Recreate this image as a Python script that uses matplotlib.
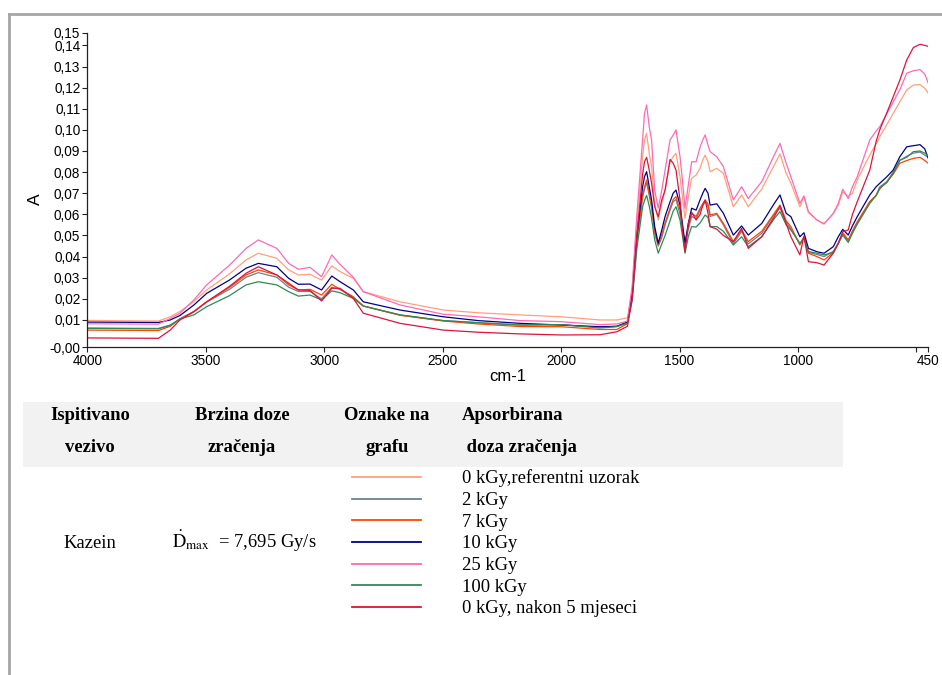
import matplotlib
matplotlib.use("Agg")
import matplotlib.pyplot as plt
from matplotlib.lines import Line2D
from matplotlib.patches import Rectangle

plt.rcParams['font.family'] = ['Liberation Sans', 'DejaVu Sans']
plt.rcParams['mathtext.fontset'] = 'stix'

# ---------------- data ----------------
wavenumber = [4000, 3850, 3700, 3650, 3609, 3550, 3496, 3400, 3330, 3278,
              3200, 3150, 3109, 3060, 3011, 2968, 2933, 2877, 2835, 2680,
              2497, 2350, 2173, 2000, 1836, 1765, 1720, 1700, 1680, 1656,
              1648, 1639, 1628, 1618, 1605, 1590, 1575, 1561, 1540, 1527,
              1515, 1498, 1488, 1477, 1463, 1449, 1430, 1413, 1402, 1392,
              1380, 1371, 1343, 1315, 1273, 1238, 1210, 1153, 1100, 1076,
              1050, 1030, 992, 975, 956, 920, 890, 851, 830, 811,
              788, 770, 750, 697, 670, 655, 625, 598, 570, 541,
              513, 485, 465, 450]

a_0kgy_ref = [0.0098, 0.0096, 0.0095, 0.0115, 0.0140, 0.0187, 0.0242, 0.0318, 0.0384, 0.0416,
              0.0392, 0.0337, 0.0313, 0.0316, 0.0289, 0.0356, 0.0329, 0.0297, 0.0234, 0.0186,
              0.0147, 0.0134, 0.0124, 0.0115, 0.0100, 0.0100, 0.0110, 0.0240, 0.0550, 0.0873,
              0.0952, 0.0984, 0.0889, 0.0826, 0.0652, 0.0573, 0.0652, 0.0715, 0.0849, 0.0873,
              0.0889, 0.0778, 0.0684, 0.0581, 0.0684, 0.0771, 0.0786, 0.0820, 0.0857, 0.0881,
              0.0849, 0.0802, 0.0818, 0.0794, 0.0636, 0.0692, 0.0636, 0.0720, 0.0834, 0.0886,
              0.0794, 0.0747, 0.0636, 0.0685, 0.0608, 0.0573, 0.0557, 0.0603, 0.0644, 0.0707,
              0.0685, 0.0700, 0.0763, 0.0881, 0.0935, 0.0968, 0.1025, 0.1078, 0.1133, 0.1189,
              0.1212, 0.1215, 0.1197, 0.1173]

a_2kgy = [0.0062, 0.0061, 0.0060, 0.0076, 0.0105, 0.0140, 0.0185, 0.0245, 0.0302, 0.0324,
          0.0302, 0.0255, 0.0235, 0.0235, 0.0200, 0.0255, 0.0245, 0.0205, 0.0166, 0.0124,
          0.0097, 0.0087, 0.0076, 0.0078, 0.0065, 0.0070, 0.0088, 0.0210, 0.0470, 0.0680,
          0.0720, 0.0750, 0.0690, 0.0630, 0.0510, 0.0450, 0.0490, 0.0550, 0.0620, 0.0660,
          0.0670, 0.0600, 0.0530, 0.0450, 0.0530, 0.0590, 0.0580, 0.0620, 0.0640, 0.0660,
          0.0640, 0.0590, 0.0600, 0.0550, 0.0460, 0.0520, 0.0460, 0.0510, 0.0600, 0.0630,
          0.0565, 0.0530, 0.0460, 0.0490, 0.0420, 0.0410, 0.0400, 0.0425, 0.0463, 0.0508,
          0.0475, 0.0515, 0.0560, 0.0660, 0.0690, 0.0730, 0.0755, 0.0800, 0.0855, 0.0875,
          0.0890, 0.0895, 0.0880, 0.0870]

a_7kgy = [0.0052, 0.0051, 0.0050, 0.0070, 0.0105, 0.0140, 0.0186, 0.0254, 0.0313, 0.0337,
          0.0313, 0.0266, 0.0242, 0.0245, 0.0218, 0.0269, 0.0245, 0.0210, 0.0166, 0.0122,
          0.0095, 0.0081, 0.0069, 0.0068, 0.0055, 0.0055, 0.0082, 0.0210, 0.0480, 0.0690,
          0.0730, 0.0763, 0.0700, 0.0640, 0.0520, 0.0455, 0.0505, 0.0560, 0.0630, 0.0670,
          0.0684, 0.0620, 0.0540, 0.0463, 0.0540, 0.0605, 0.0590, 0.0630, 0.0650, 0.0668,
          0.0650, 0.0597, 0.0605, 0.0557, 0.0471, 0.0526, 0.0471, 0.0520, 0.0605, 0.0644,
          0.0570, 0.0542, 0.0455, 0.0494, 0.0416, 0.0400, 0.0384, 0.0419, 0.0463, 0.0513,
          0.0479, 0.0522, 0.0565, 0.0660, 0.0690, 0.0720, 0.0755, 0.0790, 0.0842, 0.0855,
          0.0865, 0.0870, 0.0855, 0.0842]

a_10kgy = [0.0090, 0.0089, 0.0088, 0.0100, 0.0121, 0.0171, 0.0226, 0.0289, 0.0345, 0.0368,
           0.0352, 0.0297, 0.0269, 0.0270, 0.0242, 0.0308, 0.0281, 0.0242, 0.0186, 0.0147,
           0.0115, 0.0097, 0.0084, 0.0076, 0.0068, 0.0070, 0.0090, 0.0220, 0.0500, 0.0731,
           0.0778, 0.0802, 0.0731, 0.0668, 0.0542, 0.0463, 0.0526, 0.0590, 0.0660, 0.0700,
           0.0715, 0.0644, 0.0557, 0.0463, 0.0557, 0.0629, 0.0620, 0.0670, 0.0700, 0.0723,
           0.0700, 0.0644, 0.0650, 0.0605, 0.0502, 0.0545, 0.0502, 0.0557, 0.0652, 0.0692,
           0.0605, 0.0589, 0.0494, 0.0513, 0.0439, 0.0423, 0.0416, 0.0447, 0.0494, 0.0529,
           0.0502, 0.0546, 0.0589, 0.0692, 0.0731, 0.0747, 0.0778, 0.0810, 0.0873, 0.0920,
           0.0925, 0.0930, 0.0910, 0.0865]

a_25kgy = [0.0082, 0.0081, 0.0080, 0.0107, 0.0132, 0.0195, 0.0266, 0.0359, 0.0439, 0.0479,
           0.0439, 0.0368, 0.0340, 0.0349, 0.0305, 0.0408, 0.0363, 0.0302, 0.0234, 0.0171,
           0.0127, 0.0115, 0.0097, 0.0092, 0.0078, 0.0081, 0.0095, 0.0260, 0.0600, 0.0952,
           0.1078, 0.1118, 0.1015, 0.0952, 0.0715, 0.0629, 0.0715, 0.0810, 0.0952, 0.0975,
           0.1000, 0.0873, 0.0763, 0.0629, 0.0739, 0.0849, 0.0849, 0.0920, 0.0952, 0.0976,
           0.0928, 0.0897, 0.0873, 0.0826, 0.0668, 0.0731, 0.0675, 0.0755, 0.0881, 0.0936,
           0.0842, 0.0778, 0.0652, 0.0687, 0.0613, 0.0573, 0.0554, 0.0605, 0.0652, 0.0719,
           0.0675, 0.0731, 0.0778, 0.0952, 0.0995, 0.1015, 0.1077, 0.1133, 0.1190, 0.1268,
           0.1280, 0.1285, 0.1265, 0.1220]

a_100kgy = [0.0060, 0.0059, 0.0058, 0.0074, 0.0105, 0.0124, 0.0163, 0.0215, 0.0266, 0.0281,
            0.0266, 0.0234, 0.0213, 0.0218, 0.0195, 0.0238, 0.0229, 0.0202, 0.0166, 0.0124,
            0.0097, 0.0087, 0.0076, 0.0078, 0.0062, 0.0068, 0.0085, 0.0190, 0.0440, 0.0636,
            0.0665, 0.0690, 0.0640, 0.0580, 0.0480, 0.0416, 0.0460, 0.0500, 0.0570, 0.0615,
            0.0636, 0.0573, 0.0500, 0.0416, 0.0495, 0.0542, 0.0540, 0.0560, 0.0580, 0.0597,
            0.0585, 0.0542, 0.0542, 0.0520, 0.0455, 0.0494, 0.0447, 0.0494, 0.0580, 0.0613,
            0.0550, 0.0526, 0.0463, 0.0487, 0.0424, 0.0416, 0.0408, 0.0420, 0.0463, 0.0502,
            0.0467, 0.0511, 0.0553, 0.0652, 0.0690, 0.0725, 0.0750, 0.0795, 0.0857, 0.0870,
            0.0897, 0.0900, 0.0890, 0.0876]

a_0kgy_5m = [0.0015, 0.0014, 0.0013, 0.0052, 0.0100, 0.0139, 0.0186, 0.0259, 0.0321, 0.0352,
             0.0313, 0.0274, 0.0242, 0.0240, 0.0190, 0.0250, 0.0250, 0.0202, 0.0132, 0.0084,
             0.0052, 0.0042, 0.0034, 0.0029, 0.0030, 0.0044, 0.0070, 0.0200, 0.0500, 0.0790,
             0.0849, 0.0870, 0.0810, 0.0747, 0.0636, 0.0589, 0.0668, 0.0715, 0.0860, 0.0842,
             0.0810, 0.0668, 0.0526, 0.0423, 0.0557, 0.0610, 0.0573, 0.0600, 0.0644, 0.0668,
             0.0605, 0.0542, 0.0530, 0.0500, 0.0471, 0.0534, 0.0439, 0.0494, 0.0589, 0.0640,
             0.0557, 0.0494, 0.0408, 0.0497, 0.0376, 0.0371, 0.0360, 0.0416, 0.0463, 0.0518,
             0.0526, 0.0600, 0.0660, 0.0810, 0.0946, 0.1000, 0.1081, 0.1157, 0.1236, 0.1331,
             0.1390, 0.1405, 0.1400, 0.1395]

series = [
    ("0 kGy,referentni uzorak", a_0kgy_ref, "#ffa07a"),
    ("2 kGy", a_2kgy, "#708090"),
    ("7 kGy", a_7kgy, "#ff4500"),
    ("10 kGy", a_10kgy, "#00008b"),
    ("25 kGy", a_25kgy, "#ff69b4"),
    ("100 kGy", a_100kgy, "#2e8b57"),
    ("0 kGy, nakon 5 mjeseci", a_0kgy_5m, "#dc143c"),
]

x_ticks = [4000, 3500, 3000, 2500, 2000, 1500, 1000, 500, 450]
x_tick_labels = ["4000", "3500", "3000", "2500", "2000", "1500", "1000", "", "450"]
y_min, y_max = -0.0028, 0.1461
y_ticks = [y_min, 0.01, 0.02, 0.03, 0.04, 0.05, 0.06, 0.07, 0.08, 0.09, 0.10,
           0.11, 0.12, 0.13, 0.14, y_max]
y_tick_labels = [f"{v:.2f}".replace(".", ",") for v in y_ticks]

header_rows = [["Ispitivano", "Brzina doze", "Oznake na", "Apsorbirana"],
               ["vezivo", "zračenja", "grafu", " doza zračenja"]]
binder = "Kazein"
dose_rate = r"$\dot{\mathrm{D}}_{\mathrm{max}}$  = 7,695 Gy/s"

# ---------------- figure ----------------
W, H = 942, 675
fig = plt.figure(figsize=(W / 100, H / 100), dpi=100)
fig.patch.set_facecolor("white")


def fx(x):
    return x / W


def fy(y):
    return 1 - y / H


ax_l, ax_r, ax_t, ax_b = 87.3, 928.3, 32.5, 347.0
ax = fig.add_axes([fx(ax_l), fy(ax_b), (ax_r - ax_l) / W, (ax_b - ax_t) / H])

for name, vals, col in series:
    ax.plot(wavenumber, vals, color=col, lw=0.9)

ax.set_xlim(4000, 450)
ax.set_ylim(y_min, y_max)
ax.set_xticks(x_ticks)
ax.set_xticklabels(x_tick_labels)
ax.set_yticks(y_ticks)
ax.set_yticklabels(y_tick_labels)
for s in ["top", "right"]:
    ax.spines[s].set_visible(False)
for s in ["left", "bottom"]:
    ax.spines[s].set_color("#222222")
    ax.spines[s].set_linewidth(0.9)
ax.tick_params(axis="both", direction="out", length=3.5, width=0.8,
               color="#222222", labelsize=9.8, pad=1.5)
ax.set_xlabel("cm-1", fontsize=12)
ax.set_ylabel("A", fontsize=12.5)
ax.yaxis.set_label_coords((35 - ax_l) / (ax_r - ax_l), (ax_b - 199) / (ax_b - ax_t))
ax.xaxis.set_label_coords((508 - ax_l) / (ax_r - ax_l), -(376 - ax_b) / (ax_b - ax_t))
ax.xaxis.label.set_verticalalignment("center")
ax.yaxis.label.set_verticalalignment("center")

# gray frame
frame_col = "#a6a6a6"
fig.add_artist(Line2D([fx(9), fx(9)], [fy(14), 0], color=frame_col, lw=2.0,
                      transform=fig.transFigure))
fig.add_artist(Line2D([fx(9), 1.0], [fy(14), fy(14)], color=frame_col, lw=2.0,
                      transform=fig.transFigure))

# table header background
fig.add_artist(Rectangle((fx(23), fy(467)), (843 - 23) / W, (467 - 402) / H,
                         facecolor="#f2f2f2", edgecolor="none",
                         transform=fig.transFigure))

serif = ["Liberation Serif", "DejaVu Serif"]
fs = 13.4
col_x = [90, 242, 387, 462]
row_base = [420.5, 452.5]
for r, row in enumerate(header_rows):
    for c, txt in enumerate(row):
        ha = "left" if c == 3 else "center"
        fig.text(fx(col_x[c]), fy(row_base[r]), txt, ha=ha, va="baseline",
                 fontsize=fs, fontweight="bold", family=serif)

body_base = [483.3, 505.0, 526.7, 548.3, 570.0, 591.7, 613.3]
for i, (name, vals, col) in enumerate(series):
    yb = body_base[i]
    fig.add_artist(Line2D([fx(352), fx(421)], [fy(yb - 6.5), fy(yb - 6.5)],
                          color=col, lw=1.3, transform=fig.transFigure))
    fig.text(fx(462), fy(yb), name, ha="left", va="baseline", fontsize=fs,
             family=serif)

fig.text(fx(90), fy(548.3), binder, ha="center", va="baseline", fontsize=fs,
         family=serif)
fig.text(fx(172), fy(548.3), dose_rate, ha="left", va="baseline", fontsize=fs,
         family=serif)

fig.savefig("out.png", dpi=100, facecolor="white")
